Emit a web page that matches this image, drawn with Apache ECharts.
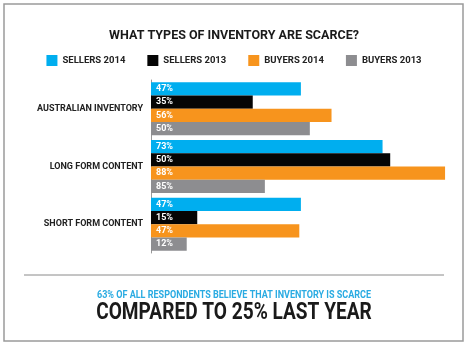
<!DOCTYPE html>
<html><head><meta charset="utf-8">
<script src="https://cdn.jsdelivr.net/npm/echarts@6/dist/echarts.min.js"></script>
<style>html,body{margin:0;padding:0;background:#fff}#c{width:468px;height:348px}</style>
</head><body><div id="c"></div>
<script>
const categories = ["AUSTRALIAN INVENTORY", "LONG FORM CONTENT", "SHORT FORM CONTENT"];
const seriesNames = ["SELLERS 2014", "SELLERS 2013", "BUYERS 2014", "BUYERS 2013"];
// bar lengths as drawn in the picture (percent scale)
const sellers2014 = [47, 72.6, 47];
const sellers2013 = [31.9, 75, 14.5];
const buyers2014 = [56.6, 92.2, 46.5];
const buyers2013 = [49.8, 35.7, 11.2];
// printed labels on the bars
const sellers2014Labels = ["47%", "73%", "47%"];
const sellers2013Labels = ["35%", "50%", "15%"];
const buyers2014Labels = ["56%", "88%", "47%"];
const buyers2013Labels = ["50%", "85%", "12%"];
const colors = ["#00aeef", "#050505", "#f7941d", "#8d8d90"];

const chart = echarts.init(document.getElementById('c'), null, {renderer: 'canvas'});
const dataSets = [sellers2014, sellers2013, buyers2014, buyers2013];
const labelSets = [sellers2014Labels, sellers2013Labels, buyers2014Labels, buyers2013Labels];
const series = dataSets.map((d, i) => ({
  name: seriesNames[i],
  type: 'bar',
  data: d,
  barGap: '0%',
  barCategoryGap: '8%',
  itemStyle: {color: colors[i]},
  label: {
    show: true, position: 'insideLeft', distance: 5,
    color: '#fff', fontSize: 9, fontWeight: 'bold', fontFamily: 'Roboto',
    formatter: p => labelSets[i][p.dataIndex]
  }
}));

chart.setOption({
  animation: false,
  backgroundColor: '#fff',
  title: {
    text: 'WHAT TYPES OF INVENTORY ARE SCARCE?',
    left: 'center', top: 24,
    textStyle: {fontFamily: 'Roboto', fontWeight: 'bold', fontSize: 12.5, color: '#1a1a1a'}
  },
  legend: {
    data: seriesNames,
    top: 50, left: 'center',
    icon: 'rect', itemWidth: 11, itemHeight: 11, itemGap: 22, itemTextGap: 5,
    textStyle: {fontFamily: 'Roboto', fontWeight: 'bold', fontSize: 9.5, color: '#222'}
  },
  grid: {left: 151, top: 80, width: 303, height: 173, containLabel: false},
  xAxis: {
    type: 'value', min: 0, max: 95,
    show: false, splitLine: {show: false}
  },
  yAxis: {
    type: 'category', data: categories, inverse: true,
    axisLine: {show: true, lineStyle: {color: '#999', width: 1}},
    axisTick: {show: false},
    axisLabel: {margin: 8, fontFamily: 'Roboto', fontSize: 9, fontWeight: 'bold', color: '#222'}
  },
  series: series,
  graphic: [
    {type: 'rect', shape: {x: 4, y: 4, width: 459, height: 337}, style: {fill: 'none', stroke: '#9a9a9a', lineWidth: 1.5}, silent: true},
    {type: 'line', shape: {x1: 24, y1: 275, x2: 444, y2: 275}, style: {stroke: '#8a8a8a', lineWidth: 1}},
    {type: 'text', x: 234, y: 295, scaleX: 0.82, style: {text: '63% OF ALL RESPONDENTS BELIEVE THAT INVENTORY IS SCARCE', align: 'center', verticalAlign: 'middle', fill: '#29abe2', font: 'bold 11px "Roboto"'}},
    {type: 'text', x: 234, y: 313, scaleX: 0.83, style: {text: 'COMPARED TO 25% LAST YEAR', align: 'center', verticalAlign: 'middle', fill: '#1a1a1a', font: 'bold 23px "Roboto"'}}
  ]
});
</script></body></html>
